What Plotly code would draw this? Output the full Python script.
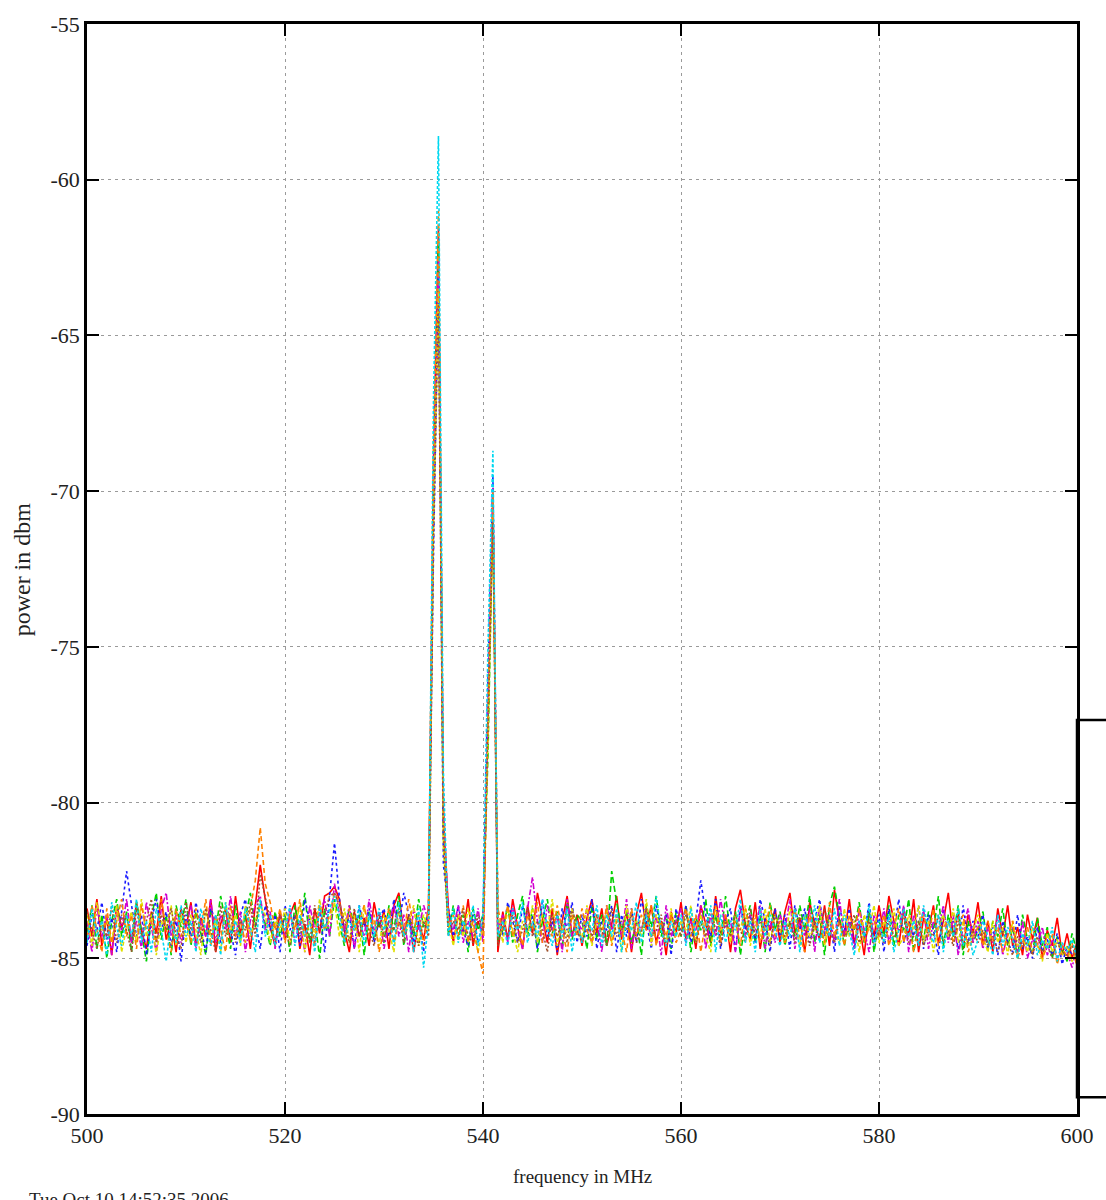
import numpy as np
import plotly.graph_objects as go

# Frequency sweep: 500-600 MHz, 0.5 MHz steps (201 bins)
freq_mhz = np.linspace(500, 600, 201)

# Power readings (dBm) for each sweep
sweep_red = [
    -83.4, -84.3, -83.1, -84.6, -83.7, -84.9, -83.3, -84.0, -83.6, -84.5, -83.2, -84.1, -84.7, -83.5, -84.2, -83.0, -84.4, -83.8, -84.8, -83.4,
    -84.0, -83.2, -84.6, -83.7, -84.3, -83.1, -84.8, -83.9, -83.4, -84.5, -83.0, -84.2, -83.6, -84.7, -83.3, -82.0, -83.1, -84.0, -84.6, -83.5,
    -84.4, -83.6, -83.2, -84.7, -83.9, -84.9, -83.4, -84.2, -83.0, -82.9, -82.7, -83.1, -84.1, -84.8, -83.5, -84.3, -83.7, -84.6, -83.2, -84.0,
    -83.5, -84.7, -83.3, -82.9, -84.2, -83.6, -84.8, -83.8, -84.4, -83.4, -69.0, -61.5, -80.5, -83.4, -84.5, -83.6, -84.2, -83.1, -84.6, -83.8,
    -84.3, -77.5, -70.2, -84.8, -83.5, -84.4, -83.1, -84.0, -84.7, -83.3, -84.2, -82.9, -83.7, -84.5, -83.4, -84.9, -83.8, -83.0, -84.3, -83.6,
    -84.6, -83.7, -83.1, -84.2, -83.4, -84.6, -83.9, -83.0, -84.4, -83.5, -84.8, -83.6, -82.9, -84.1, -83.3, -84.5, -83.8, -84.9, -83.5, -84.2,
    -83.2, -84.4, -83.7, -84.7, -83.3, -83.9, -84.5, -83.0, -84.2, -83.6, -84.8, -83.4, -82.8, -83.9, -84.4, -83.2, -84.7, -83.7, -84.1, -83.4,
    -84.5, -83.5, -82.9, -84.2, -83.7, -84.8, -83.2, -83.9, -84.4, -83.3, -84.6, -82.8, -83.8, -84.3, -83.1, -84.5, -83.9, -84.9, -83.5, -84.3,
    -83.3, -84.2, -83.0, -83.8, -84.6, -83.4, -84.3, -83.1, -84.8, -83.7, -84.1, -83.3, -84.5, -83.8, -82.9, -84.3, -83.5, -84.7, -83.6, -84.2,
    -83.2, -84.5, -83.8, -84.8, -83.4, -84.3, -83.3, -84.6, -84.0, -84.9, -83.6, -84.4, -83.7, -85.0, -84.1, -84.6, -83.7, -84.9, -84.2, -85.0, -84.5,
]
sweep_green = [
    -84.2, -83.3, -84.7, -83.6, -85.0, -83.8, -83.1, -84.3, -83.5, -84.8, -83.2, -84.1, -85.1, -83.7, -82.9, -84.4, -83.6, -84.9, -83.3, -84.0,
    -83.1, -84.6, -83.5, -84.2, -84.9, -83.4, -84.1, -83.0, -83.8, -84.7, -83.3, -84.4, -83.7, -82.9, -84.0, -83.2, -83.9, -84.6, -83.5, -84.3,
    -83.6, -84.8, -83.3, -84.1, -82.9, -84.5, -83.7, -85.0, -83.4, -84.3, -83.1, -83.8, -84.6, -83.3, -84.0, -83.6, -84.9, -83.5, -84.4, -83.8,
    -84.5, -83.3, -84.1, -83.0, -84.6, -83.7, -84.3, -83.1, -84.0, -83.5, -70.5, -62.0, -81.0, -84.2, -83.3, -84.4, -83.6, -84.8, -83.4, -84.1,
    -83.6, -78.5, -70.5, -84.4, -84.1, -83.3, -84.5, -83.6, -83.0, -84.3, -83.4, -84.8, -83.8, -83.1, -84.2, -83.5, -84.7, -83.2, -84.4, -83.6,
    -83.8, -84.7, -83.3, -84.4, -83.6, -84.6, -82.2, -83.2, -84.1, -83.5, -84.5, -83.8, -84.9, -83.3, -84.0, -83.0, -84.3, -83.6, -84.7, -83.5,
    -84.3, -83.3, -84.8, -83.7, -84.1, -83.1, -84.6, -83.6, -84.4, -83.0, -84.2, -83.5, -84.9, -83.8, -83.3, -84.5, -83.6, -84.8, -83.2, -84.1,
    -83.5, -84.6, -83.8, -84.3, -83.3, -84.1, -83.0, -84.5, -83.6, -84.9, -83.3, -82.7, -83.6, -84.6, -83.8, -84.1, -83.2, -84.5, -83.5, -84.8,
    -83.8, -84.3, -83.3, -84.6, -83.6, -84.1, -83.1, -84.8, -83.8, -84.4, -83.5, -84.1, -83.0, -84.6, -83.6, -84.3, -83.3, -84.9, -83.8, -84.5,
    -84.1, -83.5, -84.7, -83.8, -84.3, -83.4, -84.6, -84.0, -85.0, -83.6, -84.4, -84.9, -83.7, -84.6, -84.0, -85.0, -84.3, -84.7, -85.1, -84.2, -84.8,
]
sweep_blue = [
    -84.6, -83.6, -84.1, -83.2, -84.4, -83.7, -84.8, -83.4, -82.2, -83.3, -84.3, -83.6, -84.9, -83.8, -83.1, -84.1, -83.5, -84.6, -83.8, -85.1,
    -83.6, -84.3, -83.2, -84.0, -84.8, -83.4, -83.8, -84.5, -83.3, -84.1, -84.9, -83.6, -83.1, -84.3, -83.8, -84.7, -83.3, -84.1, -83.6, -84.8,
    -83.3, -84.1, -83.6, -84.6, -83.1, -83.8, -84.5, -83.4, -84.8, -83.0, -81.3, -83.1, -84.3, -83.6, -84.7, -83.3, -84.0, -83.4, -84.5, -83.8,
    -83.4, -84.3, -83.1, -84.0, -82.9, -83.6, -84.5, -83.8, -84.8, -83.3, -72.0, -63.0, -82.0, -83.4, -84.3, -83.3, -84.1, -84.6, -83.6, -84.5,
    -83.8, -76.0, -69.5, -83.7, -84.3, -83.2, -83.8, -84.5, -83.3, -84.1, -83.6, -84.7, -83.1, -84.3, -83.8, -84.8, -83.4, -84.1, -83.2, -84.5,
    -83.6, -84.3, -83.1, -84.7, -83.8, -84.1, -83.3, -84.8, -83.6, -84.3, -83.4, -84.5, -83.1, -83.8, -84.7, -83.3, -84.1, -83.6, -84.9, -83.4,
    -84.1, -83.3, -84.5, -83.8, -82.5, -83.6, -84.3, -83.1, -84.7, -83.8, -83.4, -84.8, -83.3, -84.1, -83.6, -84.5, -83.1, -83.8, -84.8, -83.4,
    -84.3, -83.6, -84.7, -83.3, -84.1, -83.4, -84.5, -83.8, -83.1, -84.3, -83.6, -84.8, -83.3, -84.1, -83.4, -84.7, -83.8, -84.3, -83.2, -84.5,
    -83.6, -84.8, -83.4, -84.1, -83.1, -84.5, -83.8, -84.3, -83.3, -84.7, -83.6, -84.1, -84.9, -83.4, -84.3, -83.8, -84.7, -83.3, -84.5, -83.8,
    -84.3, -83.6, -84.7, -84.0, -84.9, -83.8, -84.5, -84.8, -83.6, -84.7, -84.3, -85.0, -84.0, -84.8, -84.4, -84.9, -84.2, -85.2, -84.6, -84.9, -84.7,
]
sweep_magenta = [
    -83.8, -84.8, -83.3, -84.3, -83.6, -84.9, -83.4, -84.1, -83.1, -84.5, -83.8, -84.7, -83.2, -84.0, -84.8, -83.4, -82.9, -84.3, -83.6, -84.5,
    -84.0, -83.3, -84.7, -83.8, -84.3, -83.1, -84.5, -83.6, -84.1, -83.0, -84.3, -83.5, -84.8, -83.8, -83.3, -83.0, -84.1, -83.5, -84.7, -83.6,
    -84.3, -83.4, -84.5, -83.8, -84.8, -83.3, -84.1, -83.6, -83.1, -84.3, -82.6, -83.6, -84.1, -83.3, -84.7, -83.8, -84.3, -83.1, -84.1, -83.5,
    -84.7, -83.8, -83.3, -84.3, -83.6, -84.8, -83.4, -84.1, -83.3, -83.8, -70.0, -62.5, -80.0, -83.6, -84.1, -83.3, -84.5, -83.8, -84.3, -83.4,
    -84.5, -77.0, -69.8, -84.1, -83.6, -84.5, -83.3, -84.1, -84.7, -83.4, -82.4, -83.8, -84.5, -83.3, -84.1, -83.6, -84.8, -83.1, -84.3, -83.8,
    -84.1, -83.4, -84.5, -83.8, -84.8, -83.3, -84.1, -83.6, -84.3, -83.1, -84.7, -83.8, -84.1, -83.4, -84.5, -83.6, -84.9, -83.3, -84.3, -83.8,
    -83.4, -84.5, -83.8, -84.1, -83.3, -84.7, -83.6, -84.3, -83.1, -84.0, -83.8, -84.8, -83.4, -84.3, -83.6, -84.1, -83.3, -84.7, -83.8, -84.5,
    -83.6, -84.1, -83.1, -84.7, -83.8, -84.3, -83.4, -84.8, -83.3, -84.1, -83.6, -84.5, -83.1, -84.3, -83.8, -84.7, -83.4, -84.1, -84.8, -83.6,
    -84.3, -83.4, -84.5, -83.8, -84.1, -83.3, -84.8, -83.6, -84.3, -83.4, -84.7, -83.8, -84.1, -83.3, -84.5, -83.6, -84.9, -84.0, -83.4, -84.5,
    -83.8, -84.7, -84.0, -84.5, -83.6, -84.9, -84.2, -84.0, -84.8, -83.8, -85.0, -84.4, -84.6, -84.0, -84.9, -84.4, -85.0, -84.6, -84.8, -85.3, -84.6,
]
sweep_cyan = [
    -84.5, -83.4, -84.3, -83.8, -84.9, -83.2, -84.0, -84.6, -83.6, -84.3, -83.1, -84.5, -83.8, -84.8, -83.4, -84.1, -85.1, -83.8, -84.5, -83.3,
    -84.3, -83.8, -84.8, -83.4, -84.1, -84.6, -83.6, -84.9, -83.2, -84.3, -83.8, -84.5, -83.4, -84.0, -84.8, -83.1, -84.3, -83.6, -84.6, -83.8,
    -84.1, -83.3, -84.6, -83.6, -84.3, -83.8, -84.8, -83.3, -84.1, -83.4, -83.0, -83.6, -84.5, -83.8, -84.1, -83.3, -84.6, -83.6, -84.3, -83.4,
    -84.1, -83.6, -84.6, -83.2, -84.3, -83.8, -84.8, -83.4, -85.3, -83.8, -67.0, -58.6, -79.0, -84.3, -83.4, -84.5, -83.8, -84.1, -83.3, -84.6,
    -83.6, -75.0, -68.7, -84.3, -83.8, -84.6, -83.4, -84.1, -83.2, -84.5, -83.8, -84.3, -83.1, -84.0, -84.6, -83.6, -84.3, -83.4, -84.8, -83.8,
    -84.5, -83.8, -84.1, -83.3, -84.6, -83.6, -84.3, -83.4, -84.8, -83.8, -84.1, -83.2, -84.5, -83.6, -84.3, -83.0, -84.1, -84.6, -83.8, -84.3,
    -83.6, -84.6, -83.4, -84.3, -83.8, -84.1, -83.3, -84.8, -83.6, -84.5, -83.8, -84.1, -83.1, -84.5, -83.8, -84.8, -83.4, -84.3, -83.6, -84.1,
    -84.6, -83.8, -84.3, -83.4, -84.8, -83.6, -84.1, -83.3, -84.5, -83.8, -84.3, -83.4, -84.6, -83.6, -84.1, -84.9, -83.8, -84.3, -83.3, -84.6,
    -83.8, -84.5, -83.6, -84.8, -84.1, -83.4, -84.3, -83.8, -84.6, -83.3, -84.1, -84.5, -83.6, -84.8, -83.8, -84.3, -83.4, -84.6, -84.0, -84.9,
    -84.4, -83.8, -84.3, -84.9, -83.6, -84.6, -84.0, -84.4, -85.0, -84.2, -84.6, -83.8, -84.9, -84.4, -84.7, -84.0, -85.1, -84.5, -84.8, -84.4, -85.0,
]
sweep_yellow = [
    -83.6, -84.6, -83.2, -84.1, -83.8, -84.5, -83.3, -84.8, -84.0, -83.5, -84.5, -83.1, -84.3, -83.6, -84.9, -83.8, -84.1, -83.3, -84.6, -83.6,
    -84.5, -83.6, -84.1, -84.9, -83.4, -84.3, -83.8, -84.8, -83.2, -84.1, -83.6, -84.6, -83.3, -84.3, -83.8, -83.3, -83.6, -84.5, -83.8, -84.1,
    -83.4, -84.5, -84.0, -83.3, -84.8, -83.6, -84.3, -83.1, -84.1, -83.8, -83.2, -84.3, -83.4, -84.5, -83.6, -84.8, -83.3, -84.1, -83.8, -84.6,
    -83.6, -84.1, -84.8, -83.4, -84.3, -83.8, -83.3, -84.6, -83.6, -84.1, -71.0, -63.5, -81.5, -83.8, -84.6, -83.6, -84.3, -83.4, -84.1, -84.8,
    -84.0, -78.0, -70.8, -83.6, -84.5, -83.4, -84.1, -84.8, -83.8, -84.3, -83.3, -84.5, -83.6, -84.1, -83.1, -84.6, -83.8, -84.3, -83.4, -84.1,
    -84.3, -83.3, -84.6, -83.8, -84.1, -83.4, -84.5, -83.6, -84.8, -83.3, -84.1, -83.8, -84.3, -83.1, -84.6, -83.6, -84.1, -84.5, -83.4, -84.3,
    -83.8, -84.1, -83.3, -84.5, -83.6, -84.3, -84.8, -83.4, -84.1, -83.8, -84.5, -83.6, -84.1, -83.3, -84.6, -83.8, -84.3, -83.4, -84.5, -83.6,
    -84.1, -84.5, -83.4, -83.8, -84.6, -83.6, -84.3, -84.0, -83.3, -84.6, -83.8, -84.1, -84.5, -83.4, -84.3, -83.8, -84.8, -83.6, -84.1, -83.3,
    -84.5, -83.8, -84.1, -83.4, -84.6, -84.3, -83.6, -84.1, -83.3, -84.5, -83.8, -84.8, -84.0, -83.6, -84.3, -83.4, -84.5, -83.8, -84.6, -84.1,
    -83.6, -84.3, -84.8, -83.8, -84.5, -84.0, -84.9, -83.8, -84.6, -84.3, -84.8, -84.0, -84.6, -85.1, -84.2, -84.8, -84.4, -84.9, -84.6, -85.1, -84.8,
]
sweep_orange = [
    -84.3, -83.3, -84.1, -84.8, -83.4, -84.5, -83.8, -83.1, -84.3, -83.6, -84.7, -83.3, -84.1, -83.8, -84.5, -83.1, -84.1, -84.8, -83.4, -84.3,
    -83.8, -84.5, -83.4, -84.1, -83.1, -84.6, -83.6, -84.1, -84.8, -83.3, -84.3, -83.8, -84.5, -83.4, -82.5, -80.8, -82.6, -83.2, -84.1, -83.4,
    -84.5, -83.6, -84.1, -83.1, -84.3, -83.8, -84.6, -83.3, -84.1, -83.6, -82.9, -83.2, -84.5, -83.4, -84.1, -83.8, -83.3, -84.3, -83.6, -84.8,
    -84.1, -83.4, -84.5, -83.8, -84.3, -83.1, -84.1, -83.6, -84.6, -83.3, -68.5, -61.0, -80.0, -84.1, -83.6, -84.3, -83.3, -84.5, -83.8, -84.8,
    -85.5, -77.0, -70.0, -83.4, -84.1, -83.3, -84.3, -83.8, -84.6, -83.6, -84.1, -83.2, -84.5, -83.8, -84.3, -83.3, -84.1, -84.8, -83.6, -84.3,
    -83.4, -84.1, -84.5, -83.6, -84.3, -83.3, -84.6, -83.8, -84.1, -84.8, -83.4, -84.3, -83.6, -84.1, -83.3, -84.6, -83.8, -84.3, -83.6, -84.5,
    -84.1, -83.4, -84.3, -83.6, -84.8, -83.8, -84.1, -83.3, -84.5, -83.6, -84.3, -83.8, -84.6, -83.4, -84.1, -83.6, -84.5, -84.0, -83.3, -84.3,
    -83.8, -84.5, -84.0, -83.4, -84.3, -84.8, -83.6, -84.1, -83.8, -84.5, -83.2, -84.3, -83.8, -84.6, -83.6, -84.1, -83.4, -84.5, -84.0, -83.8,
    -84.3, -83.6, -84.6, -84.0, -83.4, -84.5, -83.8, -84.8, -84.0, -83.6, -84.3, -83.4, -84.6, -84.0, -83.8, -84.5, -84.0, -83.6, -84.8, -84.3,
    -84.0, -84.6, -83.8, -84.5, -84.0, -84.8, -84.3, -83.8, -85.0, -84.5, -84.0, -84.8, -84.5, -85.0, -84.6, -84.2, -85.2, -84.6, -85.0, -84.5, -85.3,
]
sweep_sienna = [
    -83.5, -84.1, -84.7, -83.8, -84.3, -83.3, -84.5, -83.6, -84.1, -84.8, -83.4, -84.3, -83.8, -83.1, -84.5, -83.6, -84.1, -83.4, -84.3, -84.7,
    -83.2, -84.1, -83.8, -84.5, -83.4, -84.1, -84.8, -83.3, -84.3, -83.6, -84.5, -83.8, -84.1, -83.2, -84.3, -82.3, -83.0, -83.8, -84.5, -83.6,
    -84.1, -84.6, -83.6, -84.3, -83.8, -84.5, -83.3, -84.1, -83.6, -83.0, -82.9, -83.3, -83.8, -84.5, -83.4, -84.3, -83.8, -84.1, -84.6, -83.6,
    -84.3, -83.8, -84.1, -83.4, -84.5, -83.6, -84.1, -84.6, -83.8, -84.3, -71.5, -64.0, -81.0, -84.3, -83.8, -84.1, -83.4, -84.3, -84.5, -83.6,
    -84.1, -78.0, -71.0, -84.6, -83.8, -84.3, -83.6, -84.5, -84.1, -83.4, -84.3, -83.8, -84.1, -84.8, -83.6, -84.3, -83.8, -84.5, -83.4, -84.1,
    -84.5, -83.8, -84.3, -83.6, -84.1, -84.6, -83.4, -84.3, -83.8, -84.1, -83.6, -84.5, -84.1, -83.4, -84.3, -84.1, -83.6, -84.6, -84.1, -83.8,
    -84.3, -83.6, -84.1, -84.5, -83.8, -84.3, -83.4, -84.1, -84.6, -83.8, -84.3, -83.6, -84.1, -84.5, -83.4, -84.3, -83.8, -84.1, -84.6, -83.6,
    -84.1, -84.3, -83.8, -84.5, -83.6, -84.1, -84.6, -83.8, -84.3, -83.4, -84.1, -84.5, -83.8, -84.3, -84.1, -83.6, -84.5, -84.1, -83.8, -84.6,
    -84.1, -84.5, -83.8, -84.3, -84.1, -83.6, -84.5, -84.3, -83.8, -84.6, -84.1, -84.3, -83.6, -84.5, -84.1, -84.6, -83.8, -84.3, -84.5, -84.1,
    -84.5, -84.1, -84.6, -84.3, -84.8, -84.1, -84.5, -84.9, -84.3, -84.6, -84.5, -84.9, -84.3, -84.8, -84.6, -85.0, -84.5, -84.8, -84.9, -84.6, -85.0,
]

sweeps = [
    ("sweep 1", sweep_red, "#ff0000", "solid"),
    ("sweep 2", sweep_green, "#00d000", "6px,3px"),
    ("sweep 3", sweep_blue, "#1a1aff", "3px,3px"),
    ("sweep 4", sweep_magenta, "#d000d0", "6px,2px,2px,2px"),
    ("sweep 5", sweep_yellow, "#e0e000", "4px,2px"),
    ("sweep 6", sweep_orange, "#ff8000", "5px,3px"),
    ("sweep 7", sweep_sienna, "#a0522d", "2px,2px"),
    ("sweep 8", sweep_cyan, "#00d8f0", "3px,2px"),
]

for name, vals, _, _ in sweeps:
    if len(vals) != len(freq_mhz):
        raise ValueError(f"{name}: {len(vals)} values")

fig = go.Figure()
for name, vals, color, dash in sweeps:
    fig.add_trace(go.Scatter(
        x=freq_mhz, y=vals, mode="lines", name=name,
        line=dict(color=color, width=1.6, dash=dash),
        showlegend=False,
    ))

serif = "Liberation Serif, Times New Roman, serif"
axis_common = dict(
    showline=True, linecolor="black", linewidth=2.5, mirror="ticks",
    ticks="inside", ticklen=12, tickwidth=2, tickcolor="black",
    showgrid=True, gridcolor="#9a9a9a", gridwidth=1, griddash="3px,4px",
    zeroline=False, tickfont=dict(family=serif, size=22, color="#222"),
)

x_ticks = [500, 520, 540, 560, 580, 600]
y_ticks = [-90, -85, -80, -75, -70, -65, -60, -55]
fig.update_xaxes(range=[500, 600], tickvals=x_ticks,
                 ticktext=[str(v) for v in x_ticks], **axis_common)
fig.update_yaxes(range=[-90, -55], tickvals=y_ticks,
                 ticktext=[str(v) for v in y_ticks], **axis_common)

# Key box at the right edge of the plot frame
fig.add_shape(type="rect", xref="paper", yref="y", x0=1.0, x1=1.2, y0=-89.46, y1=-77.35,
              line=dict(color="black", width=2.5), fillcolor="rgba(0,0,0,0)", layer="above")

fig.add_annotation(text="frequency in MHz", xref="paper", yref="paper", x=0.5, y=-0.0575,
                   xanchor="center", yanchor="middle",
                   showarrow=False, font=dict(family=serif, size=19, color="#222"))
fig.add_annotation(text="power in dbm", xref="paper", yref="paper", x=-0.0653, y=0.5,
                   xanchor="center", yanchor="middle",
                   textangle=-90, showarrow=False, font=dict(family=serif, size=24, color="#222"))
fig.add_annotation(text="Tue Oct 10 14:52:35 2006", xref="paper", yref="paper",
                   x=-0.0603, y=-0.0785, xanchor="left", yanchor="middle",
                   showarrow=False, font=dict(family=serif, size=19, color="#222"))

fig.update_layout(
    width=1106, height=1200,
    margin=dict(l=87, r=24, t=18, b=86),
    paper_bgcolor="white", plot_bgcolor="white",
)

fig.write_html("out.html")
